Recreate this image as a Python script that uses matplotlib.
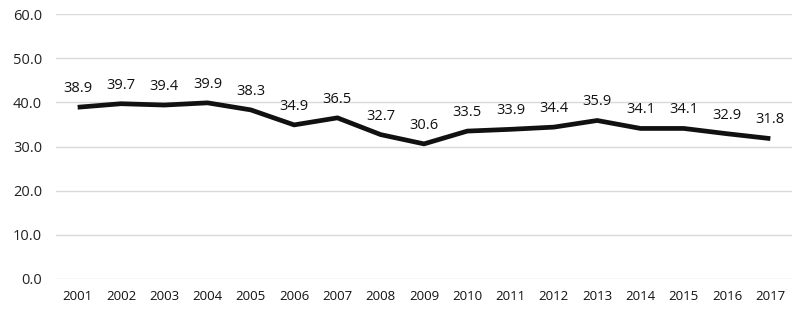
import matplotlib
matplotlib.use('Agg')
import matplotlib.pyplot as plt

years = ['2001', '2002', '2003', '2004', '2005', '2006', '2007', '2008', '2009',
         '2010', '2011', '2012', '2013', '2014', '2015', '2016', '2017']
values = [38.9, 39.7, 39.4, 39.9, 38.3, 34.9, 36.5, 32.7, 30.6,
          33.5, 33.9, 34.4, 35.9, 34.1, 34.1, 32.9, 31.8]
yticks = [0, 10, 20, 30, 40, 50, 60]

plt.rcParams['font.family'] = ['Open Sans', 'DejaVu Sans']

fig = plt.figure(figsize=(8.0, 3.21), dpi=100)
ax = fig.add_axes([0.07, 0.131, 0.92, 0.825])

x = list(range(len(years)))
ax.plot(x, values, color='#111111', lw=3.4, solid_capstyle='butt', zorder=3)

for xi, v in zip(x, values):
    ax.annotate(f'{v:.1f}', (xi, v), xytext=(0, 8), textcoords='offset points',
                ha='center', va='bottom', fontsize=10.5, color='#111111')

ax.set_xlim(-0.5, len(years) - 0.5)
ax.set_ylim(0, 60)
ax.set_yticks(yticks)
ax.set_yticklabels([f'{t:.1f}' for t in yticks], fontsize=10.5, color='#222222')
ax.set_xticks(x)
ax.set_xticklabels(years, fontsize=9.5, color='#111111')
ax.tick_params(length=0, pad=8)
ax.tick_params(axis='y', pad=10)
ax.grid(axis='y', color='#d9d9d9', lw=1)
ax.set_axisbelow(True)
for s in ax.spines.values():
    s.set_visible(False)

fig.savefig('out.png', dpi=100)
